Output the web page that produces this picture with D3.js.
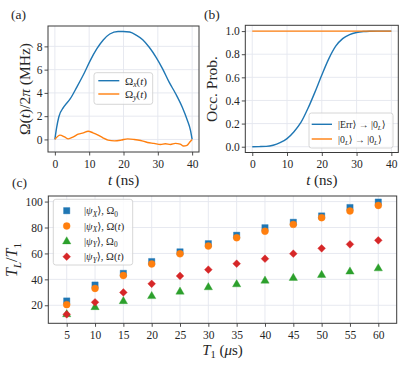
<!DOCTYPE html>
<html>
<head>
<meta charset="utf-8">
<script src="https://cdn.jsdelivr.net/npm/d3@7"></script>
<style>
  body { margin: 0; background: #fff; }
  svg text { font-family: "Liberation Serif", "DejaVu Serif", serif; fill: #262626; }
</style>
</head>
<body>
<div id="chart"></div>
<script>
// ---- data ----
// (a) pulse amplitudes
const tOmegaX = [0, 0.5, 1.15, 2.6, 4.5, 6.4, 8.35, 10.3, 12.2, 14.1, 16, 18.4, 19.9, 21.8, 23.7, 25.6, 27.5, 29.5, 31.4, 33.3, 35.2, 37.1, 38.6, 39.5, 40];
const omegaX  = [0, 1.0, 1.93, 2.79, 3.5, 4.5, 5.58, 6.78, 7.78, 8.55, 9.06, 9.28, 9.28, 9.23, 8.97, 8.57, 7.92, 7.06, 6.07, 4.92, 3.93, 2.79, 1.65, 0.8, 0];
const tOmegaY = [0, 1.5, 2.8, 3.9, 5.4, 6.8, 8.3, 9.7, 11.1, 12.6, 14, 15.5, 17.4, 19.3, 21.2, 23.1, 25, 27, 28.9, 30.8, 32.2, 33.7, 35.1, 36.5, 37.5, 38.5, 39.4, 40];
const omegaY  = [0, 0.37, 0.22, 0.05, 0.22, 0.45, 0.57, 0.71, 0.57, 0.37, 0.14, -0.06, -0.12, -0.06, 0.05, 0, -0.09, -0.26, -0.34, -0.43, -0.37, -0.43, -0.34, -0.4, -0.57, -0.51, -0.2, 0];

// (b) occupation probabilities
const tProb   = [0, 2, 4, 6, 8, 10, 12, 14, 16, 18, 20, 22, 24, 26, 28, 30, 32, 34, 36, 38, 40];
const probErr = [0, 0.001, 0.003, 0.013, 0.035, 0.07, 0.13, 0.21, 0.33, 0.47, 0.62, 0.76, 0.87, 0.935, 0.97, 0.988, 0.996, 0.999, 1, 1, 1];
const tProb0  = [0, 40];
const prob0   = [1, 1];

// (c) T_L / T_1 vs T_1
const t1Values   = [5, 10, 15, 20, 25, 30, 35, 40, 45, 50, 55, 60];
const psiXOmega0 = [23.3, 35.6, 44.6, 53.7, 61.2, 67.5, 74, 79.8, 84, 88.9, 95.4, 99.6];
const psiXOmegaT = [20.5, 33, 43, 51.9, 59.7, 65.7, 72.1, 77.1, 82.4, 87.6, 92.8, 97];
const psiYOmega0 = [13, 18.5, 23.1, 27, 30.4, 33.8, 36.1, 38.9, 41, 43.3, 45.9, 48.4];
const psiYOmegaT = [13, 22.3, 29.9, 36.6, 42.6, 47.5, 52.1, 55.9, 59.8, 63.9, 67, 70.1];

const ticksT   = [0, 10, 20, 30, 40];
const ticksA   = [0, 2, 4, 6, 8];
const ticksB   = [0, 0.2, 0.4, 0.6, 0.8, 1.0];
const ticksCx  = [5, 10, 15, 20, 25, 30, 35, 40, 45, 50, 55, 60];
const ticksCy  = [20, 40, 60, 80, 100];

const C = {blue: "#1f77b4", orange: "#ff7f0e", green: "#2ca02c", red: "#d62728"};

const W = 403, H = 365;
const svg = d3.select("#chart").append("svg")
    .attr("width", W).attr("height", H)
    .attr("viewBox", [0, 0, W, H]);

// tiny markup: *x* italic, _{..} subscript
function rich(text, s, fs) {
    const parts = s.split(/(_\{[^}]*\}|\*[^*]+\*)/g).filter(p => p !== "");
    let down = false;
    const off = 0.22 * fs;
    parts.forEach(p => {
        let txt = p, sub = false, ital = false;
        if (txt.startsWith("_{")) { sub = true; txt = txt.slice(2, -1); }
        if (txt.length > 1 && txt.startsWith("*") && txt.endsWith("*")) { ital = true; txt = txt.slice(1, -1); }
        const ts = text.append("tspan").text(txt);
        if (ital) ts.attr("font-style", "italic");
        if (sub) {
            ts.attr("font-size", (fs * 0.7) + "px");
            if (!down) { ts.attr("dy", off); down = true; }
        } else if (down) {
            ts.attr("dy", -off); down = false;
        }
    });
    return text;
}

function label(x, y, s, fs, opts = {}) {
    const t = svg.append("text")
        .attr("x", x).attr("y", y)
        .attr("font-size", fs + "px")
        .attr("text-anchor", opts.anchor || "start");
    if (opts.rotate) t.attr("transform", `rotate(-90,${x},${y})`);
    return rich(t, s, fs);
}

function panel(box, xDomain, yDomain, xTicks, yTicks, xFmt, yFmt) {
    const x = d3.scaleLinear().domain(xDomain).range([box.left, box.right]);
    const y = d3.scaleLinear().domain(yDomain).range([box.bottom, box.top]);
    const g = svg.append("g");

    // grid
    g.append("g").selectAll("line.gx").data(xTicks).join("line")
        .attr("x1", d => x(d)).attr("x2", d => x(d))
        .attr("y1", box.top).attr("y2", box.bottom)
        .attr("stroke", "#e4e7ee").attr("stroke-width", 0.9);
    g.append("g").selectAll("line.gy").data(yTicks).join("line")
        .attr("y1", d => y(d)).attr("y2", d => y(d))
        .attr("x1", box.left).attr("x2", box.right)
        .attr("stroke", "#e4e7ee").attr("stroke-width", 0.9);

    // axes
    const ax = g.append("g")
        .attr("transform", `translate(0,${box.bottom})`)
        .call(d3.axisBottom(x).tickValues(xTicks).tickFormat(xFmt).tickSize(3.5).tickPadding(4));
    const ay = g.append("g")
        .attr("transform", `translate(${box.left},0)`)
        .call(d3.axisLeft(y).tickValues(yTicks).tickFormat(yFmt).tickSize(3.5).tickPadding(2));
    [ax, ay].forEach(a => {
        a.select(".domain").remove();
        a.selectAll(".tick line").attr("stroke", "#3a3a3a").attr("stroke-width", 0.9);
        a.selectAll(".tick text").attr("font-family", "Liberation Serif, serif")
            .attr("font-size", "11.5px").attr("fill", "#262626");
    });

    const plot = svg.append("g");
    // frame drawn after the marks
    const frame = () => svg.append("rect")
        .attr("x", box.left).attr("y", box.top)
        .attr("width", box.right - box.left).attr("height", box.bottom - box.top)
        .attr("fill", "none").attr("stroke", "#3a3a3a").attr("stroke-width", 1);
    return {x, y, plot, frame};
}

function legendBox(x0, y0, w, h) {
    svg.append("rect").attr("x", x0).attr("y", y0).attr("width", w).attr("height", h)
        .attr("rx", 2.5).attr("fill", "#fff").attr("fill-opacity", 0.8)
        .attr("stroke", "#cccccc").attr("stroke-width", 0.8);
}

// ---------- (a) ----------
const boxA = {left: 48, right: 199, top: 26, bottom: 152};
const pa = panel(boxA, [-2, 42], [-1.08, 9.75], ticksT, ticksA, d3.format("d"), d3.format("d"));
const lineA = d3.line().x(d => pa.x(d[0])).y(d => pa.y(d[1])).curve(d3.curveMonotoneX);
pa.plot.append("path").datum(d3.zip(tOmegaX, omegaX)).attr("d", lineA)
    .attr("fill", "none").attr("stroke", C.blue).attr("stroke-width", 1.4);
pa.plot.append("path").datum(d3.zip(tOmegaY, omegaY)).attr("d", lineA)
    .attr("fill", "none").attr("stroke", C.orange).attr("stroke-width", 1.4);
pa.frame();

legendBox(94, 72.7, 58.7, 31.6);
svg.append("line").attr("x1", 98.3).attr("x2", 119.3).attr("y1", 80.7).attr("y2", 80.7)
    .attr("stroke", C.blue).attr("stroke-width", 1.4);
svg.append("line").attr("x1", 98.3).attr("x2", 119.3).attr("y1", 94).attr("y2", 94)
    .attr("stroke", C.orange).attr("stroke-width", 1.4);
label(125, 84.5, "Ω_{*x*}(*t*)", 11);
label(125, 98, "Ω_{*y*}(*t*)", 11);

label(123.5, 184.5, "*t* (ns)", 15, {anchor: "middle"});
label(30, 89, "Ω(*t*)/2*π* (MHz)", 15.5, {anchor: "middle", rotate: true});
label(11, 19, "(a)", 13.5);

// ---------- (b) ----------
const boxB = {left: 245.3, right: 398.3, top: 25.3, bottom: 152.5};
const pb = panel(boxB, [-2, 42], [-0.05, 1.05], ticksT, ticksB, d3.format("d"), d3.format(".1f"));
const lineB = d3.line().x(d => pb.x(d[0])).y(d => pb.y(d[1])).curve(d3.curveMonotoneX);
pb.plot.append("path").datum(d3.zip(tProb, probErr)).attr("d", lineB)
    .attr("fill", "none").attr("stroke", C.blue).attr("stroke-width", 1.4);
pb.plot.append("path").datum(d3.zip(tProb0, prob0)).attr("d", lineB)
    .attr("fill", "none").attr("stroke", C.orange).attr("stroke-width", 1.4);
pb.frame();

legendBox(309, 113, 84, 35);
svg.append("line").attr("x1", 311.7).attr("x2", 332).attr("y1", 124.3).attr("y2", 124.3)
    .attr("stroke", C.blue).attr("stroke-width", 1.4);
svg.append("line").attr("x1", 311.7).attr("x2", 332).attr("y1", 139).attr("y2", 139)
    .attr("stroke", C.orange).attr("stroke-width", 1.4);
label(338, 127.8, "|Err⟩ → |0_{*L*}⟩", 9.8);
label(338, 142.5, "|0_{*L*}⟩ → |0_{*L*}⟩", 9.8);

label(321.8, 184.5, "*t* (ns)", 15, {anchor: "middle"});
label(217, 89, "Occ. Prob.", 15.5, {anchor: "middle", rotate: true});
label(204, 19, "(b)", 13.5);

// ---------- (c) ----------
const boxC = {left: 48.3, right: 396.7, top: 196, bottom: 323.3};
const pc = panel(boxC, [1.75, 63.25], [6.1, 104.3], ticksCx, ticksCy, d3.format("d"), d3.format("d"));

const series = [
    {name: "|*ψ*_{*X*}⟩, Ω_{0}", values: psiXOmega0, color: C.blue, sym: d3.symbolSquare, size: 40, rot: 0},
    {name: "|*ψ*_{*X*}⟩, Ω(*t*)", values: psiXOmegaT, color: C.orange, sym: d3.symbolCircle, size: 38, rot: 0},
    {name: "|*ψ*_{*Y*}⟩, Ω_{0}", values: psiYOmega0, color: C.green, sym: d3.symbolTriangle, size: 30, rot: 0},
    {name: "|*ψ*_{*Y*}⟩, Ω(*t*)", values: psiYOmegaT, color: C.red, sym: d3.symbolSquare, size: 30, rot: 45}
];

series.forEach(s => {
    const path = d3.symbol().type(s.sym).size(s.size)();
    pc.plot.append("g").selectAll("path").data(d3.zip(t1Values, s.values)).join("path")
        .attr("d", path)
        .attr("transform", d => `translate(${pc.x(d[0])},${pc.y(d[1])}) rotate(${s.rot})`)
        .attr("fill", s.color).attr("stroke", s.color).attr("stroke-width", 0.6).attr("stroke-opacity", 0.6);
});
pc.frame();

legendBox(53.3, 199.3, 79.4, 65.7);
const legRows = [210.7, 226, 241.5, 256.7];
series.forEach((s, i) => {
    const path = d3.symbol().type(s.sym).size(s.size)();
    svg.append("path").attr("d", path)
        .attr("transform", `translate(66.7,${legRows[i]}) rotate(${s.rot})`)
        .attr("fill", s.color).attr("stroke", s.color).attr("stroke-width", 0.6).attr("stroke-opacity", 0.6);
    label(84, legRows[i] + 3.5, s.name, 10.5);
});

label(222.5, 355, "*T*_{1} (*μ*s)", 15, {anchor: "middle"});
label(17, 260, "*T*_{*L*}/*T*_{1}", 16, {anchor: "middle", rotate: true});
label(12, 187, "(c)", 13.5);
</script>
</body>
</html>
